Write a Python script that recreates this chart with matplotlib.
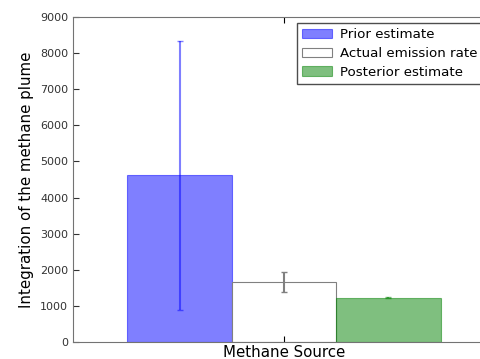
import numpy as np
import matplotlib
matplotlib.use("Agg")
import matplotlib.pyplot as plt

# ---------------------------- DATA -------------------------------------
labels  = ["Prior estimate", "Actual emission rate", "Posterior estimate"]
values  = [4620, 1660, 1225]
errors  = [3720, 280, 8]
offsets = [-1, 0, 1]
colors  = ["blue", "white", "green"]
edges   = ["blue", "gray", "green"]
alphas  = [0.5, 1.0, 0.5]

# ---------------------------- PLOT -------------------------------------
fig = plt.figure(figsize=(4.81, 3.59), dpi=100)
ax = fig.add_axes([73/481, 17/359, 422/481, 325/359])

for off, v, e, c, ec, a, lab in zip(offsets, values, errors, colors, edges, alphas, labels):
    ax.bar(off, v, width=1.0, color=c, edgecolor=ec, alpha=a, linewidth=0.8,
           label=lab, yerr=e, capsize=2.5,
           error_kw=dict(ecolor=ec, alpha=a, lw=1.5, capthick=1))

ax.set_xlim(-2.02, 2.02)
ax.set_ylim(0, 9000)
ax.set_yticks(np.arange(0, 9001, 1000))
ax.set_xticks([0])
ax.set_xticklabels(["Methane Source"], fontsize=10.8)
ax.set_ylabel("Integration of the methane plume", fontsize=10.8)
ax.tick_params(axis="y", labelsize=8, direction="in", length=4, right=True, colors="0.2")
ax.tick_params(axis="x", direction="in", length=4, top=True, pad=2)
for s in ax.spines.values():
    s.set_color("0.45")

leg = ax.legend(loc="upper left", bbox_to_anchor=(297/481, 1 - 23/359),
                bbox_transform=fig.transFigure, fontsize=9.6, fancybox=False,
                framealpha=1, borderaxespad=0, borderpad=0.4,
                handlelength=2.2, handletextpad=0.6, labelspacing=0.42)
leg.get_frame().set_edgecolor("0.3")

fig.savefig("out.png", dpi=100)
